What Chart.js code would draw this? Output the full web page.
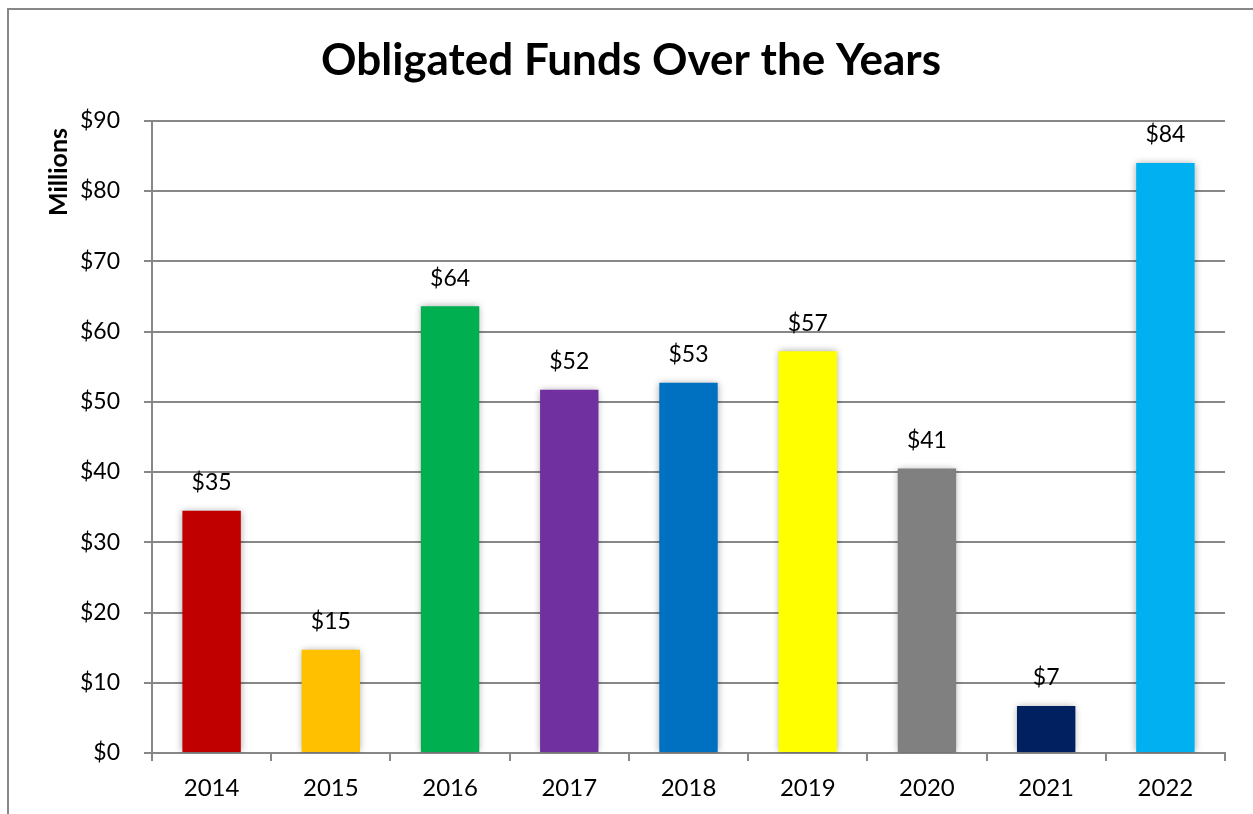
<!DOCTYPE html>
<html>
<head>
<meta charset="utf-8">
<script src="https://cdn.jsdelivr.net/npm/chart.js@4"></script>
<style>
html,body{margin:0;padding:0;background:#fff;}
#wrap{position:absolute;left:0;top:0;width:1253px;height:814px;}
</style>
</head>
<body>
<div id="wrap"><canvas id="c" width="1253" height="814"></canvas></div>
<script>
const titleText = "Obligated Funds Over the Years";
const yAxisTitle = "Millions";
const categories = ["2014","2015","2016","2017","2018","2019","2020","2021","2022"];
const values = [34.5, 14.7, 63.6, 51.7, 52.7, 57.2, 40.5, 6.7, 84.0];
const barColors = ["#C00000","#FFC000","#00B050","#7030A0","#0070C0","#FFFF00","#808080","#002060","#00B0F0"];
const yMin = 0, yMax = 90, yStep = 10;

const FONT = "Lato, 'Noto Sans', sans-serif";
const GRID = "#878787";

const framePlugin = {
  id: 'frame',
  beforeDraw(chart) {
    const ctx = chart.ctx;
    ctx.save();
    ctx.strokeStyle = GRID;
    ctx.lineWidth = 2;
    ctx.beginPath();
    ctx.moveTo(8, 820);
    ctx.lineTo(8, 9);
    ctx.lineTo(1260, 9);
    ctx.stroke();
    ctx.restore();
  }
};

const shadowPlugin = {
  id: 'shadow',
  beforeDatasetsDraw(chart) {
    const ctx = chart.ctx;
    ctx.save();
    ctx.shadowColor = 'rgba(0,0,0,0.35)';
    ctx.shadowBlur = 7;
    ctx.shadowOffsetX = 0;
    ctx.shadowOffsetY = 0;
  },
  afterDatasetsDraw(chart) {
    chart.ctx.restore();
  }
};

const labelsPlugin = {
  id: 'valueLabels',
  afterDatasetsDraw(chart) {
    const ctx = chart.ctx;
    const meta = chart.getDatasetMeta(0);
    ctx.save();
    ctx.fillStyle = '#000';
    ctx.font = "23px " + FONT;
    ctx.textAlign = 'center';
    ctx.textBaseline = 'middle';
    meta.data.forEach((bar, i) => {
      ctx.fillText('$' + Math.round(values[i]), bar.x, bar.y - 28);
    });
    // y axis title
    ctx.translate(59, 172);
    ctx.rotate(-Math.PI / 2);
    ctx.font = "bold 25px " + FONT;
    ctx.fillText(yAxisTitle, 0, 0);
    ctx.restore();
  }
};

new Chart(document.getElementById('c'), {
  type: 'bar',
  data: {
    labels: categories,
    datasets: [{
      data: values,
      backgroundColor: barColors,
      borderWidth: 0,
      barPercentage: 0.49,
      categoryPercentage: 1.0
    }]
  },
  options: {
    responsive: false,
    animation: false,
    devicePixelRatio: 1,
    layout: { padding: { left: 37, right: 28, top: 8, bottom: 0 } },
    plugins: {
      legend: { display: false },
      tooltip: { enabled: false },
      title: {
        display: true,
        text: titleText,
        color: '#000',
        font: { family: FONT, size: 44, weight: 'bold' },
        padding: { top: 26, bottom: 34 }
      }
    },
    scales: {
      x: {
        offset: true,
        grid: {
          offset: true,
          drawOnChartArea: false,
          drawTicks: true,
          tickLength: 8,
          color: GRID,
          lineWidth: 2
        },
        border: { display: true, color: GRID, width: 2 },
        ticks: { color: '#000', font: { family: FONT, size: 24 }, padding: 13 },
        afterFit(scale) { scale.height = 61; }
      },
      y: {
        min: yMin, max: yMax,
        ticks: {
          stepSize: yStep,
          color: '#000',
          font: { family: FONT, size: 23 },
          padding: 24,
          callback: v => '$' + v
        },
        grid: { color: GRID, lineWidth: 2, tickLength: 8, drawTicks: true },
        border: { display: true, color: GRID, width: 2 },
        afterFit(scale) { scale.width = 115; }
      }
    }
  },
  plugins: [framePlugin, shadowPlugin, labelsPlugin]
});
</script>
</body>
</html>
